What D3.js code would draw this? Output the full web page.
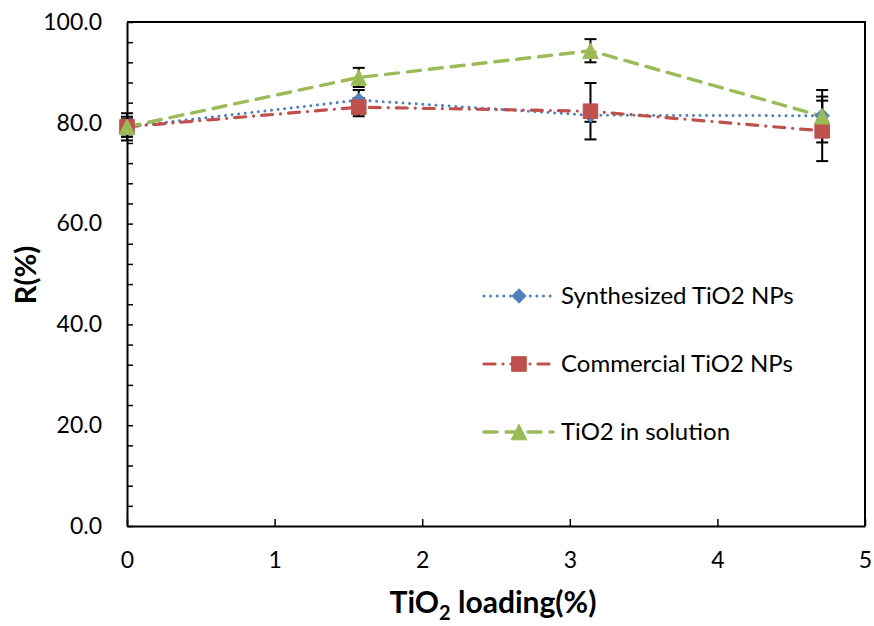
<!DOCTYPE html>
<html>
<head>
<meta charset="utf-8">
<script src="https://cdn.jsdelivr.net/npm/d3@7"></script>
<style>
  html, body { margin: 0; padding: 0; background: #fff; }
  svg { display: block; font-family: Lato, "Open Sans", sans-serif; }
</style>
</head>
<body>
<svg id="chart" width="874" height="626"></svg>
<script>
// TiO2 loading (%) on the x axis
const loading = [0, 1.57, 3.14, 4.71];

// R (%) for each series, with symmetric error bar half-widths
const synthesized = [79.2, 84.5, 81.5, 81.4];
const synthesizedErr = [2.0, 2.0, 1.3, 3.8];
const commercial = [79.2, 83.1, 82.3, 78.4];
const commercialErr = [2.7, 1.8, 5.6, 6.0];
const solution = [79.2, 89.0, 94.3, 81.3];
const solutionErr = [1.5, 1.9, 2.3, 5.2];

const seriesNames = ["Synthesized TiO2 NPs", "Commercial TiO2 NPs", "TiO2 in solution"];
const xTicks = [0, 1, 2, 3, 4, 5];
const yTicks = d3.range(0, 101, 4);

// marker shapes drawn inside a box of half-size r, centred on the point
const diamond = { draw(ctx, r) { ctx.moveTo(0, -r); ctx.lineTo(r, 0); ctx.lineTo(0, r); ctx.lineTo(-r, 0); ctx.closePath(); } };
const square = { draw(ctx, r) { ctx.rect(-r, -r, 2 * r, 2 * r); } };
const triangle = { draw(ctx, r) { ctx.moveTo(0, -r); ctx.lineTo(r, r); ctx.lineTo(-r, r); ctx.closePath(); } };

const series = [
  { name: seriesNames[0], values: synthesized, err: synthesizedErr, color: "#4F81BD",
    dash: "0.01,6.6", width: 3, cap: "round", marker: diamond, r: 7.2 },
  { name: seriesNames[1], values: commercial, err: commercialErr, color: "#C0504D",
    dash: "11,8,0.01,8", width: 3.2, cap: "round", marker: square, r: 7.3 },
  { name: seriesNames[2], values: solution, err: solutionErr, color: "#9BBB59",
    dash: "13,9", width: 3.4, cap: "round", marker: triangle, r: 7.8 }
];

const svg = d3.select("#chart");
const margin = { left: 127, top: 22, right: 9, bottom: 100 };
const W = 874 - margin.left - margin.right;
const H = 626 - margin.top - margin.bottom;

const x = d3.scaleLinear().domain([0, 5]).range([0, W]);
const y = d3.scaleLinear().domain([0, 100]).range([H, 0]);

const g = svg.append("g").attr("transform", `translate(${margin.left},${margin.top})`);

// frame on top and right
g.append("path")
  .attr("d", `M0,0H${W}V${H}`)
  .attr("fill", "none").attr("stroke", "#000").attr("stroke-width", 2);

// y axis with inward ticks every 4, labels every 20
const yAxis = g.append("g")
  .call(d3.axisLeft(y).tickValues(yTicks).tickSizeInner(-6).tickSizeOuter(0).tickPadding(25)
    .tickFormat(d => d % 20 === 0 ? d3.format(".1f")(d) : ""));
yAxis.select(".domain").attr("stroke-width", 2);
yAxis.selectAll(".tick line").attr("stroke-width", 1.5);
yAxis.selectAll(".tick text").attr("font-size", 23).attr("fill", "#000")
  .attr("font-family", "Lato, 'Open Sans', sans-serif");

// x axis
const xAxis = g.append("g").attr("transform", `translate(0,${H})`)
  .call(d3.axisBottom(x).tickValues(xTicks).tickSizeInner(-7).tickSizeOuter(0).tickPadding(26)
    .tickFormat(d3.format("d")));
xAxis.select(".domain").attr("stroke-width", 2);
xAxis.selectAll(".tick line").attr("stroke-width", 1.5);
xAxis.selectAll(".tick text").attr("font-size", 23).attr("fill", "#000")
  .attr("font-family", "Lato, 'Open Sans', sans-serif");

// axis titles
const xTitle = svg.append("text")
  .attr("x", margin.left + W / 2 - 3).attr("y", 613)
  .attr("text-anchor", "middle").attr("font-size", 30).attr("font-weight", "bold");
xTitle.append("tspan").text("TiO");
xTitle.append("tspan").attr("font-size", 20).attr("dy", 7).text("2");
xTitle.append("tspan").attr("dy", -7).text(" loading(%)");

svg.append("text")
  .attr("transform", "translate(36,275) rotate(-90)")
  .attr("text-anchor", "middle").attr("font-size", 29).attr("font-weight", "bold")
  .text("R(%)");

const line = d3.line().x((d, i) => x(loading[i])).y(d => y(d));

// series lines
series.forEach(s => {
  g.append("path").datum(s.values)
    .attr("d", line)
    .attr("fill", "none").attr("stroke", s.color)
    .attr("stroke-width", s.width).attr("stroke-dasharray", s.dash)
    .attr("stroke-linecap", s.cap);
});

// error bars
const capHalf = 6;
series.forEach(s => {
  const eb = g.append("g").attr("stroke", "#000").attr("stroke-width", 2);
  s.values.forEach((v, i) => {
    const cx = x(loading[i]);
    const top = y(v + s.err[i]), bot = y(v - s.err[i]);
    eb.append("line").attr("x1", cx).attr("x2", cx).attr("y1", top).attr("y2", bot);
    eb.append("line").attr("x1", cx - capHalf).attr("x2", cx + capHalf).attr("y1", top).attr("y2", top);
    eb.append("line").attr("x1", cx - capHalf).attr("x2", cx + capHalf).attr("y1", bot).attr("y2", bot);
  });
});

// markers
series.forEach(s => {
  const sym = d3.symbol().type(s.marker).size(s.r);
  g.append("g").selectAll("path").data(s.values).join("path")
    .attr("transform", (d, i) => `translate(${x(loading[i])},${y(d)})`)
    .attr("d", sym)
    .attr("fill", s.color).attr("stroke", s.color).attr("stroke-width", 1);
});

// legend
const legendRows = [296, 364, 432];
const legend = svg.append("g");
series.forEach((s, i) => {
  const ly = legendRows[i];
  legend.append("line")
    .attr("x1", 484).attr("x2", 553).attr("y1", ly).attr("y2", ly)
    .attr("stroke", s.color).attr("stroke-width", s.width)
    .attr("stroke-dasharray", s.dash).attr("stroke-linecap", s.cap);
  legend.append("path")
    .attr("transform", `translate(519,${ly})`)
    .attr("d", d3.symbol().type(s.marker).size(s.r)())
    .attr("fill", s.color).attr("stroke", s.color).attr("stroke-width", 1);
  legend.append("text")
    .attr("x", 561).attr("y", ly).attr("dy", "0.35em")
    .attr("font-size", 24).attr("fill", "#000")
    .text(s.name);
});
</script>
</body>
</html>
